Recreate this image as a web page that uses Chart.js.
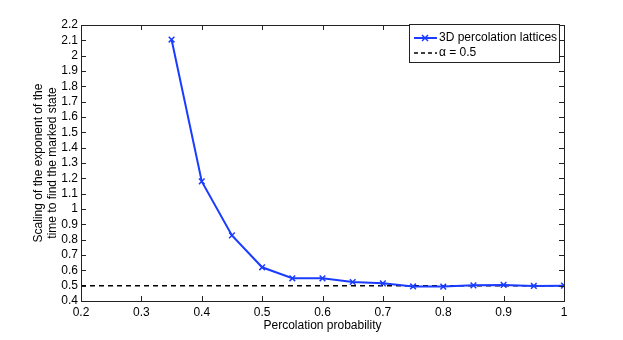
<!DOCTYPE html>
<html><head><meta charset="utf-8">
<script src="https://cdn.jsdelivr.net/npm/chart.js@4"></script>
<style>html,body{margin:0;padding:0;background:#fff}#c{display:block}</style>
</head><body>
<canvas id="c" width="623" height="340"></canvas>
<script>
const probabilities = [0.35,0.4,0.45,0.5,0.55,0.6,0.65,0.7,0.75,0.8,0.85,0.9,0.95,1.0];
const scalingValues = [2.105,1.18,0.828,0.62,0.548,0.548,0.524,0.515,0.495,0.494,0.502,0.505,0.498,0.5];
const alphaX = [0.2,1.0];
const alphaY = [0.5,0.5];
const xTicks = [0.2,0.3,0.4,0.5,0.6,0.7,0.8,0.9,1.0];
const yTicks = [0.4,0.5,0.6,0.7,0.8,0.9,1.0,1.1,1.2,1.3,1.4,1.5,1.6,1.7,1.8,1.9,2.0,2.1,2.2];
const seriesLabels = ['3D percolation lattices','\u03b1 = 0.5'];
const xTitle = 'Percolation probability';
const yTitle = ['Scaling of the exponent of the','time to find the marked state'];

const FONT = 'Liberation Sans, Arial, sans-serif';
const fmt = v => String(Number(v.toFixed(1)));

const frame = {
  id:'frame',
  afterDraw(chart){
    const {ctx, chartArea:a, scales:{x,y}} = chart;
    ctx.save();
    ctx.strokeStyle = '#222'; ctx.lineWidth = 1;
    ctx.strokeRect(Math.round(a.left)+0.5, Math.round(a.top)+0.5, Math.round(a.right-a.left), Math.round(a.bottom-a.top));
    const L = 5;
    ctx.beginPath();
    xTicks.forEach(t=>{const px=Math.round(x.getPixelForValue(t))+0.5;
      ctx.moveTo(px,a.bottom); ctx.lineTo(px,a.bottom-L);
      ctx.moveTo(px,a.top); ctx.lineTo(px,a.top+L);});
    yTicks.forEach(t=>{const py=Math.round(y.getPixelForValue(t))+0.5;
      ctx.moveTo(a.left,py); ctx.lineTo(a.left+L,py);
      ctx.moveTo(a.right,py); ctx.lineTo(a.right-L,py);});
    ctx.stroke();
    // legend
    const lx=409, ly=24, lw=150, lh=38;
    ctx.fillStyle='#fff'; ctx.fillRect(lx,ly,lw,lh);
    ctx.strokeStyle='#222'; ctx.strokeRect(lx+0.5,ly+0.5,lw,lh);
    const ds = chart.data.datasets;
    ctx.font = '12px '+FONT; ctx.fillStyle='#000'; ctx.textBaseline='middle';
    let ry=38;
    ctx.strokeStyle=ds[0].borderColor; ctx.lineWidth=2; ctx.setLineDash([]);
    ctx.beginPath(); ctx.moveTo(414,ry); ctx.lineTo(437,ry); ctx.stroke();
    ctx.lineWidth=1.5;
    ctx.beginPath(); ctx.moveTo(422,ry-3); ctx.lineTo(428,ry+3); ctx.moveTo(422,ry+3); ctx.lineTo(428,ry-3); ctx.stroke();
    ctx.fillText(ds[0].label, 439, ry);
    ry=53;
    ctx.strokeStyle='#000'; ctx.lineWidth=1.5; ctx.setLineDash([4,3]);
    ctx.beginPath(); ctx.moveTo(414,ry); ctx.lineTo(437,ry); ctx.stroke();
    ctx.setLineDash([]);
    ctx.fillText(ds[1].label, 439, ry);
    ctx.restore();
  }
};

new Chart(document.getElementById('c'), {
  type:'scatter',
  data:{datasets:[
    {label:seriesLabels[0], data:probabilities.map((p,i)=>({x:p,y:scalingValues[i]})),
     showLine:true, borderColor:'#1a3cff', backgroundColor:'#1a3cff', borderWidth:2,
     pointStyle:'crossRot', pointRadius:4, pointBorderWidth:1.5, pointBorderColor:'#1a3cff', tension:0, order:1},
    {label:seriesLabels[1], data:alphaX.map((p,i)=>({x:p,y:alphaY[i]})),
     showLine:true, borderColor:'#000', borderWidth:1.5, borderDash:[5,4], pointRadius:0, order:2}
  ]},
  options:{
    responsive:false, animation:false,
    layout:{padding:{left:0,right:59,top:25,bottom:0}},
    plugins:{legend:{display:false}, tooltip:{enabled:false}},
    scales:{
      x:{type:'linear', min:0.2, max:1.0,
        afterBuildTicks:s=>{s.ticks=xTicks.map(v=>({value:v}));},
        afterFit:s=>{s.height=39;},
        grid:{display:false}, border:{display:false},
        ticks:{callback:fmt, color:'#000', font:{family:FONT,size:12}, padding:-4, maxRotation:0, autoSkip:false},
        title:{display:true, text:xTitle, color:'#000', font:{family:FONT,size:12}, padding:{top:0,bottom:7}}},
      y:{type:'linear', min:0.4, max:2.2,
        afterBuildTicks:s=>{s.ticks=yTicks.map(v=>({value:v}));},
        afterFit:s=>{s.width=81;},
        grid:{display:false}, border:{display:false},
        ticks:{callback:fmt, color:'#000', font:{family:FONT,size:12}, padding:-5, autoSkip:false},
        title:{display:true, text:yTitle, color:'#000', font:{family:FONT,size:12,lineHeight:1.2}, padding:{top:31,bottom:0}}}
    }
  },
  plugins:[frame]
});
</script>
</body></html>
